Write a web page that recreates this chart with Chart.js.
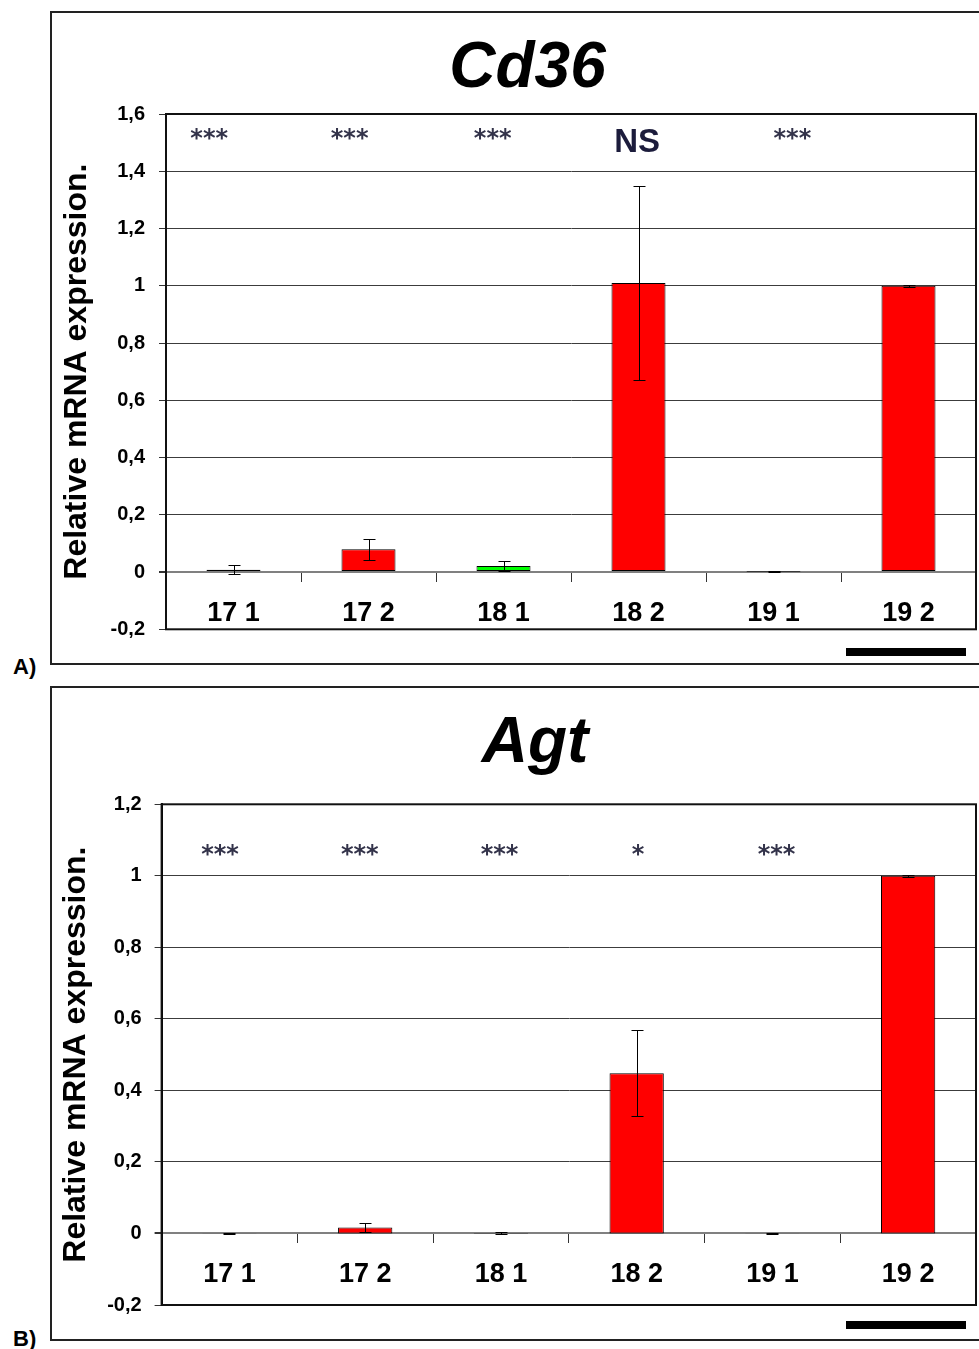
<!DOCTYPE html>
<html>
<head>
<meta charset="utf-8">
<script src="https://cdn.jsdelivr.net/npm/chart.js@4/dist/chart.umd.min.js"></script>
<style>
  html, body { margin: 0; padding: 0; background: #fff; }
  body { width: 979px; height: 1349px; overflow: hidden; position: relative; font-family: 'Liberation Sans', Arial, sans-serif; }
  .panel { position: absolute; left: 50px; width: 1000px; border: 2px solid #222; box-sizing: border-box; }
  #panelA { top: 11px; height: 654px; }
  #panelB { top: 686px; height: 655px; }
  canvas { position: absolute; left: 50px; }
  #cd36 { top: 11px; }
  #agt { top: 686px; }
  .tag { position: absolute; left: 13px; font: bold 22px 'Liberation Sans', Arial, sans-serif; color: #000; line-height: 22px; }
  .scalebar { position: absolute; left: 846px; width: 120px; height: 8px; background: #000; }
</style>
</head>
<body>
<div class="panel" id="panelA"></div>
<div class="panel" id="panelB"></div>
<canvas id="cd36" width="955" height="653"></canvas>
<canvas id="agt" width="970" height="654"></canvas>
<div class="tag" style="top:656px">A)</div>
<div class="tag" style="top:1328px">B)</div>
<div class="scalebar" style="top:648px"></div>
<div class="scalebar" style="top:1321px"></div>
<script>
// Sample groups on the category axis
const categories = ['17 1', '17 2', '18 1', '18 2', '19 1', '19 2'];
const barColors = ['#FF0000', '#FF0000', '#00FF00', '#FF0000', '#FF0000', '#FF0000'];

// Cd36 relative expression (mean and error)
const cd36Values = [0.008, 0.08, 0.021, 1.01, 0.001, 1.0];
const cd36Errors = [0.015, 0.037, 0.019, 0.34, 0.002, 0.003];
const cd36Ticks = ['-0,2', '0', '0,2', '0,4', '0,6', '0,8', '1', '1,2', '1,4', '1,6'];
const cd36Marks = ['***', '***', '***', 'NS', '***'];
const cd36MarkPos = [-0.18, 0.86, 1.92, 2.99, 4.14];
const cd36MarkLevels = [1.536, 1.536, 1.536, 1.507, 1.536];

// Agt relative expression (mean and error)
const agtValues = [0.0005, 0.017, 0.001, 0.448, 0.0005, 1.0];
const agtErrors = [0.001, 0.012, 0.003, 0.12, 0.001, 0.002];
const agtTicks = ['-0,2', '0', '0,2', '0,4', '0,6', '0,8', '1', '1,2'];
const agtMarks = ['***', '***', '***', '*', '***'];
const agtMarkPos = [-0.07, 0.96, 1.99, 3.01, 4.03];
const agtMarkLevels = [1.078, 1.078, 1.078, 1.078, 1.078];

Chart.defaults.font.family = "'Liberation Sans', Arial, sans-serif";
Chart.defaults.color = '#000';

// Whiskers of +/- error around each bar top
const errorBarPlugin = {
  id: 'errorBars',
  afterDatasetsDraw(chart, args, opts) {
    const { ctx } = chart;
    const y = chart.scales.y;
    const meta = chart.getDatasetMeta(0);
    const values = chart.data.datasets[0].data;
    ctx.save();
    ctx.strokeStyle = '#000';
    ctx.lineWidth = 1;
    meta.data.forEach((bar, i) => {
      const x = Math.round(bar.x) + 0.5;
      const yt = Math.round(y.getPixelForValue(values[i] + opts.errors[i])) + 0.5;
      const yb = Math.round(y.getPixelForValue(values[i] - opts.errors[i])) + 0.5;
      ctx.beginPath();
      ctx.moveTo(x, yt); ctx.lineTo(x, yb);
      ctx.moveTo(x - 6, yt); ctx.lineTo(x + 6, yt);
      ctx.moveTo(x - 6, yb); ctx.lineTo(x + 6, yb);
      ctx.stroke();
    });
    ctx.restore();
  }
};

// Significance marks above the groups
const sigPlugin = {
  id: 'sigMarks',
  afterDraw(chart, args, opts) {
    const { ctx } = chart;
    const { x, y } = chart.scales;
    const x0 = x.getPixelForValue(0);
    const step = x.getPixelForValue(1) - x0;
    ctx.save();
    ctx.textAlign = 'center';
    ctx.textBaseline = 'alphabetic';
    opts.marks.forEach((t, i) => {
      const px = x0 + opts.positions[i] * step;
      const py = y.getPixelForValue(opts.levels[i]);
      if (/^\*+$/.test(t)) {
        const size = 24;
        ctx.font = "bold " + size + "px 'DejaVu Sans', sans-serif";
        ctx.fillStyle = '#33334a';
        ctx.fillText(t, px, py + 0.57 * size);
      } else {
        const size = 33;
        ctx.font = "bold " + size + "px 'Liberation Sans', Arial, sans-serif";
        ctx.fillStyle = '#1c1c3c';
        ctx.fillText(t, px, py + 0.358 * size);
      }
    });
    ctx.restore();
  }
};

// Frame around the plotting area
const framePlugin = {
  id: 'plotFrame',
  afterDraw(chart) {
    const { ctx, chartArea: a } = chart;
    ctx.save();
    ctx.strokeStyle = '#111';
    ctx.lineWidth = 2;
    ctx.strokeRect(a.left, a.top, a.right - a.left, a.bottom - a.top);
    ctx.restore();
  }
};

function buildChart(canvasId, cfg) {
  const tickLabels = cfg.tickLabels;
  return new Chart(document.getElementById(canvasId), {
    type: 'bar',
    data: {
      labels: categories,
      datasets: [{
        data: cfg.values,
        backgroundColor: barColors,
        borderColor: '#000',
        borderWidth: 1,
        borderSkipped: false,
        barPercentage: 0.4,
        categoryPercentage: 1.0
      }]
    },
    plugins: [errorBarPlugin, sigPlugin, framePlugin],
    options: {
      responsive: false,
      animation: false,
      devicePixelRatio: 1,
      layout: { padding: { left: 0, right: 0, top: 0, bottom: cfg.padBottom } },
      plugins: {
        legend: { display: false },
        tooltip: { enabled: false },
        title: {
          display: true,
          text: cfg.title,
          color: '#000',
          font: { size: 64, weight: 'bold', style: 'italic', lineHeight: 1.2 },
          padding: { top: cfg.titleTop, bottom: cfg.titleBottom }
        },
        errorBars: { errors: cfg.errors },
        sigMarks: { marks: cfg.marks, positions: cfg.markPos, levels: cfg.markLevels }
      },
      scales: {
        x: {
          position: { y: 0 },
          offset: true,
          grid: {
            offset: true,
            drawOnChartArea: false,
            drawTicks: true,
            tickLength: 9,
            tickColor: '#333',
            tickWidth: 1
          },
          border: { color: '#808080', width: 2 },
          ticks: {
            color: '#000',
            font: { size: 27, weight: 'bold' },
            padding: 16,
            maxRotation: 0,
            autoSkip: false
          }
        },
        y: {
          min: cfg.min,
          max: cfg.max,
          afterFit(scale) { scale.width = cfg.axisWidth; },
          ticks: {
            stepSize: 0.2,
            color: '#000',
            font: { size: 20, weight: 'bold' },
            padding: cfg.tickPad,
            callback(value) {
              return tickLabels[Math.round((value - cfg.min) / 0.2)];
            }
          },
          grid: {
            color: (c) => (c.tick && Math.abs(c.tick.value) < 1e-9 ? '#808080' : '#3c3c3c'),
            lineWidth: (c) => (c.tick && Math.abs(c.tick.value) < 1e-9 ? 2 : 1),
            tickLength: 7,
            tickColor: '#333'
          },
          border: { color: '#000', width: 2 },
          title: {
            display: true,
            text: 'Relative mRNA expression.',
            color: '#000',
            font: { size: 32, weight: 'bold', lineHeight: 1.2 },
            padding: { top: cfg.yTitlePad, bottom: 0 }
          }
        },
        // empty right-hand margin axis (keeps plot edge clear of the panel edge)
        yMargin: {
          type: 'linear',
          position: 'right',
          display: true,
          afterFit(scale) { scale.width = cfg.rightMargin; },
          ticks: { display: false },
          grid: { display: false, drawTicks: false },
          border: { display: false }
        }
      }
    }
  });
}

buildChart('cd36', {
  title: 'Cd36',
  values: cd36Values, errors: cd36Errors, tickLabels: cd36Ticks,
  marks: cd36Marks, markPos: cd36MarkPos, markLevels: cd36MarkLevels,
  min: -0.2, max: 1.6,
  axisWidth: 116, tickPad: 14, yTitlePad: 8.4, rightMargin: 29,
  titleTop: 19.6, titleBottom: 6.6, padBottom: 34.7
});

buildChart('agt', {
  title: 'Agt',
  values: agtValues, errors: agtErrors, tickLabels: agtTicks,
  marks: agtMarks, markPos: agtMarkPos, markLevels: agtMarkLevels,
  min: -0.2, max: 1.2,
  axisWidth: 111.6, tickPad: 13, yTitlePad: 7.4, rightMargin: 44,
  titleTop: 19.6, titleBottom: 21.9, padBottom: 35
});
</script>
</body>
</html>
